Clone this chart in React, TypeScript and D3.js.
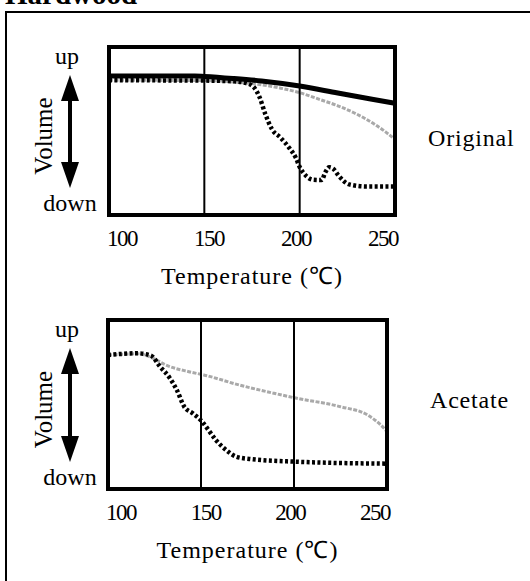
import React from "react";
import * as d3 from "d3";

// ---- Data (temperature in °C, relative volume 0..100, up = 100) ----
const tickValues = [100, 150, 200, 250];
const gridValues = [150, 200];

// Original
const origSolidT = [100, 145, 150, 165, 180, 200, 220, 238, 250];
const origSolidV = [82.8, 82.8, 82.5, 81.3, 79.8, 76.8, 72.6, 68.9, 66.5];

const origGrayT = [100, 150, 165, 180, 190, 200, 210, 220, 230, 240, 245, 250];
const origGrayV = [80.2, 80, 79.2, 77.5, 75.5, 72.8, 69, 65, 60, 53.5, 49.5, 45];

const origDotT = [100, 150, 165, 172, 176, 179, 182, 185.5, 190, 194.5, 198, 200, 203.5, 207, 211.5, 213.5, 215.5, 217.5, 220.5, 226, 235, 250];
const origDotV = [80.2, 80, 79.6, 78.5, 76, 70, 60, 51, 46, 40, 34, 28.6, 23.2, 21, 20.8, 25.5, 28.4, 27.6, 23.3, 18.2, 17, 17];

// Acetate
const acetGrayT = [100, 116, 124, 131, 143.5, 151.5, 170.7, 188.6, 201, 225, 239.5, 246.5, 250];
const acetGrayV = [79.3, 80, 77.5, 73.4, 69.4, 67.5, 61.5, 56.8, 53.8, 48.7, 43.8, 38, 34];

const acetDotT = [100, 116, 123, 128, 133, 137, 141, 145.5, 150.5, 154, 158, 163.5, 169, 176, 200, 250];
const acetDotV = [79.3, 80.3, 79, 72.4, 66, 58.6, 48.7, 44.8, 40, 34.9, 29, 23.1, 19.1, 17.8, 16.2, 15];

type Series = { t: number[]; v: number[]; kind: "solid" | "gray" | "dot" };

const panels = [
  {
    name: "Original",
    x0: 109, x1: 395, y0: 47, y1: 215,
    labelX: 428, labelY: 146,
    series: [
      { t: origGrayT, v: origGrayV, kind: "gray" },
      { t: origDotT, v: origDotV, kind: "dot" },
      { t: origSolidT, v: origSolidV, kind: "solid" },
    ] as Series[],
  },
  {
    name: "Acetate",
    x0: 108, x1: 387, y0: 320, y1: 489,
    labelX: 430, labelY: 408,
    series: [
      { t: acetGrayT, v: acetGrayV, kind: "gray" },
      { t: acetDotT, v: acetDotV, kind: "dot" },
    ] as Series[],
  },
];

const FONT = "'Liberation Serif', 'Times New Roman', serif";

function Panel({ p }: { p: (typeof panels)[number] }) {
  const x = d3.scaleLinear().domain([100, 250]).range([p.x0, p.x1]);
  const xl = d3.scaleLinear().domain([100, 250]).range([p.x0 + 13, p.x1 - 12]);
  const y = d3.scaleLinear().domain([0, 100]).range([p.y1, p.y0]);
  const line = d3
    .line<[number, number]>()
    .x((d) => x(d[0]))
    .y((d) => y(d[1]))
    .curve(d3.curveMonotoneX);

  const ax = 70;
  const topTip = p.y0 + 28;
  const botTip = p.y1 - 27;
  const headH = 26;
  const headW = 9;
  const midY = (p.y0 + p.y1) / 2;

  return (
    <g>
      {p.series.map((s, i) => {
        const pts = s.t.map((t, j) => [t, s.v[j]] as [number, number]);
        const d = line(pts) || "";
        if (s.kind === "solid")
          return <path key={i} d={d} fill="none" stroke="#000" strokeWidth={5} />;
        if (s.kind === "gray")
          return (
            <path key={i} d={d} fill="none" stroke="#a9a9a9" strokeWidth={3} strokeDasharray="4 1.5" />
          );
        return (
          <path key={i} d={d} fill="none" stroke="#000" strokeWidth={4.5} strokeDasharray="3 2.4" />
        );
      })}
      {gridValues.map((g) => (
        <line key={g} x1={x(g)} x2={x(g)} y1={p.y0} y2={p.y1} stroke="#000" strokeWidth={2} />
      ))}
      <rect x={p.x0} y={p.y0} width={p.x1 - p.x0} height={p.y1 - p.y0} fill="none" stroke="#000" strokeWidth={4} />
      {tickValues.map((t) => (
        <text key={t} x={xl(t)} y={p.y1 + 31} textAnchor="middle" fontFamily={FONT} fontSize={23} letterSpacing={-1.5}>
          {t}
        </text>
      ))}
      <text x={(p.x0 + p.x1) / 2} y={p.y1 + 69} textAnchor="middle" fontFamily={FONT} fontSize={24} letterSpacing={1}>
        Temperature (℃)
      </text>
      <text x={67} y={p.y0 + 17} textAnchor="middle" fontFamily={FONT} fontSize={24}>up</text>
      <text x={70} y={p.y1 - 4} textAnchor="middle" fontFamily={FONT} fontSize={24}>down</text>
      <text
        x={0}
        y={0}
        transform={`translate(${52},${midY + 5}) rotate(-90)`}
        textAnchor="middle"
        fontFamily={FONT}
        fontSize={25}
      >
        Volume
      </text>
      <line x1={ax} x2={ax} y1={topTip + headH - 2} y2={botTip - headH + 2} stroke="#000" strokeWidth={4} />
      <path d={`M${ax},${topTip} L${ax - headW},${topTip + headH} L${ax + headW},${topTip + headH} Z`} fill="#000" />
      <path d={`M${ax},${botTip} L${ax - headW},${botTip - headH} L${ax + headW},${botTip - headH} Z`} fill="#000" />
      <text x={p.labelX} y={p.labelY} fontFamily={FONT} fontSize={24} letterSpacing={0.8}>
        {p.name}
      </text>
    </g>
  );
}

export default function App() {
  return (
    <svg
      width={530}
      height={581}
      style={{ position: "absolute", left: 0, top: 0, background: "#fff" }}
    >
      <rect x={0} y={0} width={530} height={581} fill="#fff" />
      <text x={5} y={4} fontFamily={FONT} fontSize={29} fontWeight="bold">Hardwood</text>
      <path d="M6,581 L6,12 L530,12" fill="none" stroke="#000" strokeWidth={2} />
      {panels.map((p) => (
        <Panel key={p.name} p={p} />
      ))}
    </svg>
  );
}
